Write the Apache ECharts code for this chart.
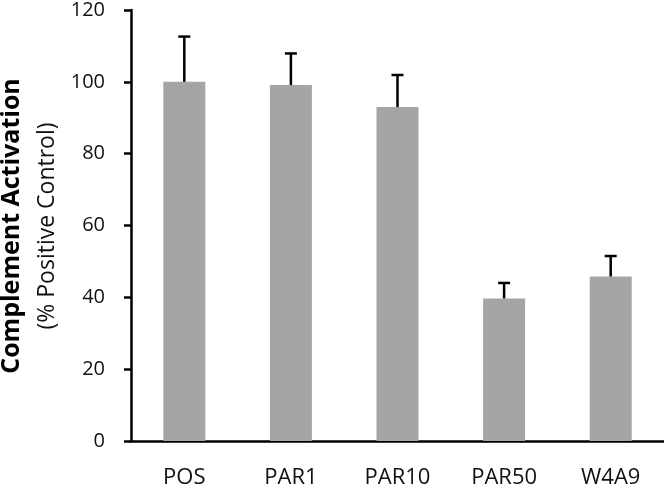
<!DOCTYPE html>
<html>
<head>
<meta charset="utf-8">
<title>Complement Activation</title>
<script src="https://cdn.jsdelivr.net/npm/echarts@6/dist/echarts.min.js"></script>
<style>
  html, body { margin: 0; padding: 0; background: #ffffff; }
  #chart { width: 664px; height: 489px; }
</style>
</head>
<body>
<div id="chart"></div>
<script>
// 数据
const categories = ['POS', 'PAR1', 'PAR10', 'PAR50', 'W4A9'];
const means = [100, 99.1, 93.0, 39.7, 45.8];
const upperErr = [12.6, 8.8, 8.9, 4.3, 5.7];
const yTicks = [0, 20, 40, 60, 80, 100, 120];

const errData = means.map((m, i) => [i, m, m + upperErr[i]]);

const chart = echarts.init(document.getElementById('chart'));

const opt = {
  animation: false,
  grid: { left: 131, right: 0, top: 9, bottom: 46 },
  xAxis: {
    type: 'category',
    data: categories,
    boundaryGap: true,
    axisLine: { lineStyle: { color: '#000', width: 2.5 } },
    axisTick: { alignWithLabel: true, length: 7, lineStyle: { color: '#000', width: 2.5 } },
    axisLabel: { color: '#111', fontFamily: 'Open Sans', fontSize: 22, margin: 26 },
  },
  yAxis: {
    type: 'value',
    min: yTicks[0],
    max: yTicks[yTicks.length - 1],
    interval: 20,
    splitLine: { show: false },
    axisLine: { show: true, lineStyle: { color: '#000', width: 2.5 } },
    axisTick: { show: true, length: 7, lineStyle: { color: '#000', width: 2.5 } },
    axisLabel: { color: '#111', fontFamily: 'Open Sans', fontSize: 20, margin: 26 },
  },
  graphic: [
    {
      type: 'text',
      x: 12,
      y: 226,
      rotation: Math.PI / 2,
      style: {
        text: 'Complement Activation',
        font: 'bold 25px "Open Sans"',
        fill: '#000',
        textAlign: 'center',
        textVerticalAlign: 'middle',
      },
    },
    {
      type: 'text',
      x: 47,
      y: 226,
      rotation: Math.PI / 2,
      style: {
        text: '(% Positive Control)',
        font: '23px "Open Sans"',
        fill: '#111',
        textAlign: 'center',
        textVerticalAlign: 'middle',
      },
    },
  ],
  series: [
    {
      type: 'bar',
      data: means,
      barWidth: 42,
      itemStyle: { color: '#a5a5a5' },
    },
    {
      // 误差线（只画上半部分）
      type: 'custom',
      data: errData,
      encode: { x: 0, y: [1, 2] },
      z: 5,
      renderItem: function (params, api) {
        const idx = api.value(0);
        const low = api.coord([idx, api.value(1)]);
        const high = api.coord([idx, api.value(2)]);
        const cap = 6;
        const style = { stroke: '#000', lineWidth: 2.5 };
        return {
          type: 'group',
          children: [
            { type: 'line', shape: { x1: low[0], y1: low[1], x2: high[0], y2: high[1] }, style: style },
            { type: 'line', shape: { x1: high[0] - cap, y1: high[1], x2: high[0] + cap, y2: high[1] }, style: style },
          ],
        };
      },
    },
  ],
};

chart.setOption(opt);
</script>
</body>
</html>
